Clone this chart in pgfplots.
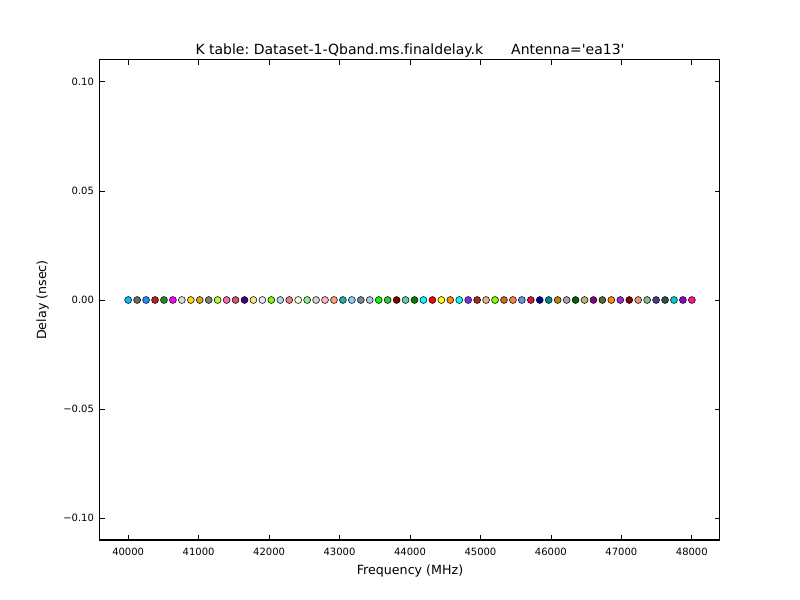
\documentclass[border=0pt]{standalone}
\usepackage{pgfplots}
\pgfplotsset{compat=1.18}
\usepackage{fontspec}
\setmainfont[Ligatures=NoCommon]{DejaVu Sans}
\frenchspacing
\newcommand{\dc}[2]{\definecolor{#1}{HTML}{#2}}
\dc{k1}{00BFFF}\dc{k2}{696969}\dc{k3}{1E90FF}\dc{k4}{B22222}\dc{k5}{228B22}\dc{k6}{FF00FF}\dc{k7}{DCDCDC}\dc{k8}{FFD700}
\dc{k9}{DAA520}\dc{k10}{808080}\dc{k11}{ADFF2F}\dc{k12}{FF69B4}\dc{k13}{CD5C5C}\dc{k14}{4B0082}\dc{k15}{F0E68C}\dc{k16}{E6E6FA}
\dc{k17}{7CFC00}\dc{k18}{ADD8E6}\dc{k19}{F08080}\dc{k20}{FAFAD2}\dc{k21}{90EE90}\dc{k22}{D3D3D3}\dc{k23}{FFB6C1}\dc{k24}{FFA07A}
\dc{k25}{20B2AA}\dc{k26}{87CEFA}\dc{k27}{778899}\dc{k28}{B0C4DE}\dc{k29}{00FF00}\dc{k30}{32CD32}\dc{k31}{800000}\dc{k32}{66CDAA}
\dc{k33}{008000}\dc{k34}{00FFFF}\dc{k35}{FF0000}\dc{k36}{FFFF00}\dc{k37}{FF8C00}\dc{k38}{00FFFF}\dc{k39}{8A2BE2}\dc{k40}{A52A2A}
\dc{k41}{DEB887}\dc{k42}{7FFF00}\dc{k43}{D2691E}\dc{k44}{FF7F50}\dc{k45}{6495ED}\dc{k46}{DC143C}\dc{k47}{00008B}\dc{k48}{008B8B}
\dc{k49}{B8860B}\dc{k50}{A9A9A9}\dc{k51}{006400}\dc{k52}{BDB76B}\dc{k53}{8B008B}\dc{k54}{556B2F}\dc{k55}{FF8C00}\dc{k56}{9932CC}
\dc{k57}{8B0000}\dc{k58}{E9967A}\dc{k59}{8FBC8F}\dc{k60}{483D8B}\dc{k61}{2F4F4F}\dc{k62}{00CED1}\dc{k63}{9400D3}\dc{k64}{FF1493}
\newcommand{\pt}[2]{\addplot[mark options={fill=#1}] coordinates {(#2,0)};}
\begin{document}
\begin{tikzpicture}
\path (-75pt,-45pt) rectangle (525pt,405pt);
\begin{axis}[
  at={(0,0)}, anchor=south west,
  scale only axis, width=465pt, height=360pt,
  xmin=39600, xmax=48400, ymin=-0.11, ymax=0.11,
  scaled x ticks=false, scaled y ticks=false,
  xtick={40000,41000,42000,43000,44000,45000,46000,47000,48000},
  xticklabels={40000,41000,42000,43000,44000,45000,46000,47000,48000},
  ytick={-0.10,-0.05,0,0.05,0.10},
  yticklabels={−0.10,−0.05,0.00,0.05,0.10},
  tick align=inside, major tick length=3.5pt,
  tick style={black, line width=0.6pt},
  axis line style={line width=0.75pt},
  ticklabel style={font=\fontsize{7.5}{9}\selectfont},
  xticklabel style={yshift=-2.5pt},
  yticklabel style={xshift=-1pt},
  xlabel={Frequency (MHz)}, ylabel={Delay (nsec)},
  label style={font=\fontsize{9.5}{11}\selectfont},
  xlabel style={yshift=0pt},
  ylabel style={yshift=4pt},
  title={K table: Dataset-1-Qband.ms.finaldelay.k\hspace{2em}Antenna=\textquotesingle ea13\textquotesingle},
  title style={font=\fontsize{10.5}{12}\selectfont, yshift=-7.5pt},
  every axis plot/.append style={only marks, mark=*, mark size=2.6pt, mark options={draw=black, line width=0.5pt}},
]
\pt{k1}{40000}\pt{k2}{40127}\pt{k3}{40254}\pt{k4}{40381}\pt{k5}{40508}\pt{k6}{40635}\pt{k7}{40762}\pt{k8}{40889}
\pt{k9}{41016}\pt{k10}{41143}\pt{k11}{41270}\pt{k12}{41397}\pt{k13}{41524}\pt{k14}{41651}\pt{k15}{41778}\pt{k16}{41905}
\pt{k17}{42032}\pt{k18}{42159}\pt{k19}{42286}\pt{k20}{42413}\pt{k21}{42540}\pt{k22}{42667}\pt{k23}{42794}\pt{k24}{42921}
\pt{k25}{43048}\pt{k26}{43175}\pt{k27}{43302}\pt{k28}{43429}\pt{k29}{43556}\pt{k30}{43683}\pt{k31}{43810}\pt{k32}{43937}
\pt{k33}{44064}\pt{k34}{44191}\pt{k35}{44318}\pt{k36}{44445}\pt{k37}{44572}\pt{k38}{44699}\pt{k39}{44826}\pt{k40}{44953}
\pt{k41}{45080}\pt{k42}{45207}\pt{k43}{45334}\pt{k44}{45461}\pt{k45}{45588}\pt{k46}{45715}\pt{k47}{45842}\pt{k48}{45969}
\pt{k49}{46096}\pt{k50}{46223}\pt{k51}{46350}\pt{k52}{46477}\pt{k53}{46604}\pt{k54}{46731}\pt{k55}{46858}\pt{k56}{46985}
\pt{k57}{47112}\pt{k58}{47239}\pt{k59}{47366}\pt{k60}{47493}\pt{k61}{47620}\pt{k62}{47747}\pt{k63}{47874}\pt{k64}{48001}
\end{axis}
\end{tikzpicture}
\end{document}
